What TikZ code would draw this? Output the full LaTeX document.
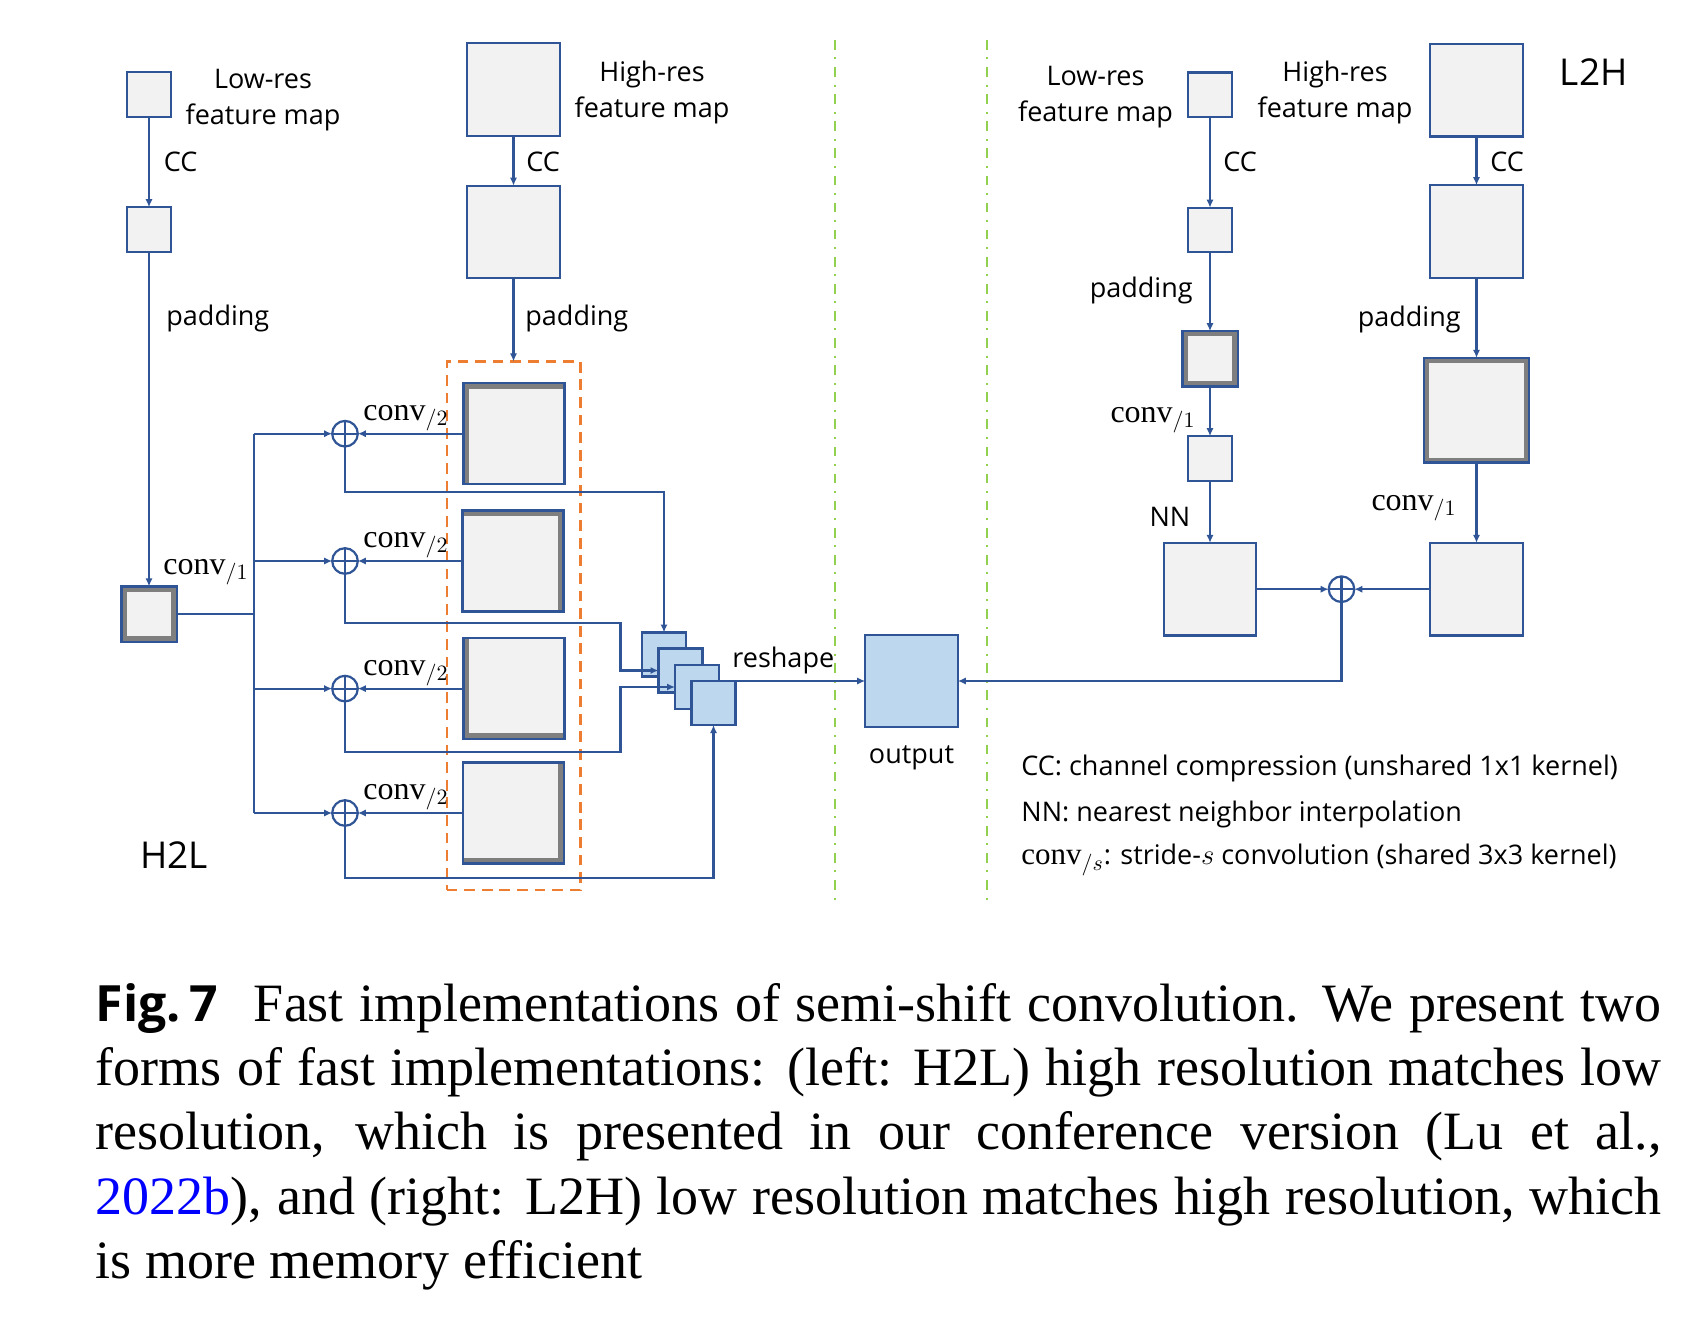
\documentclass[tikz,border=0pt]{standalone}
\usepackage{fontspec}
\setmainfont{Liberation Serif}
\setsansfont{Open Sans}
\usetikzlibrary{arrows.meta,calc}
\definecolor{linecol}{RGB}{47,85,151}
\definecolor{boxfill}{RGB}{242,242,242}
\definecolor{padgray}{RGB}{127,127,127}
\definecolor{sqfill}{RGB}{189,215,238}
\definecolor{dashorange}{RGB}{237,125,49}
\definecolor{sepgreen}{RGB}{146,208,80}

\begin{document}
\begin{tikzpicture}[
    x=0.5pt, y=-0.5pt,
    fmap/.style={rectangle, draw=linecol, fill=boxfill, line width=1.1pt, inner sep=0pt, outer sep=0pt, minimum size=#1},
    fmap/.default=22.3pt,
    padmap/.style n args={3}{fmap=#1, fill=padgray, path picture={\fill[boxfill] ([shift={(#2)}]path picture bounding box.south west) rectangle ([shift={(#3)}]path picture bounding box.north east);}},
    stack/.style={fmap=22pt, fill=sqfill},
    oplus/.style={circle, draw=linecol, fill=white, line width=1.1pt, minimum size=12.8pt, inner sep=0pt, outer sep=0pt, path picture={\draw[linecol, line width=1.1pt] (path picture bounding box.north) -- (path picture bounding box.south) (path picture bounding box.west) -- (path picture bounding box.east);}},
    group/.style={rectangle, draw=dashorange, line width=1.15pt, dash pattern=on 5.35pt off 3.45pt, minimum width=66.85pt, minimum height=264.3pt, inner sep=0pt, outer sep=0pt},
    sep/.style={draw=sepgreen, line width=1pt, dash pattern=on 4.85pt off 3.85pt on 1pt off 3.85pt},
    arrow/.style={-{Latex[length=4pt,width=3.6pt]}, draw=linecol, line width=1.1pt},
    link/.style={draw=linecol, line width=1.1pt},
    lab/.style={font=\sffamily\fontsize{13.5}{16}\selectfont, inner sep=0pt},
    convlab/.style={font=\fontsize{16}{19}\selectfont, inner sep=0pt},
    title/.style={font=\sffamily\fontsize{18.5}{22}\selectfont, inner sep=0pt}
]
\useasboundingbox (0,0) rectangle (1693,1323);

% Separators
\draw[sep] (835,40) -- (835,902);
\draw[sep] (987,40) -- (987,902);

% H2L: input maps
\node[fmap] (lowA) at (149,94.5) {};
\node[fmap] (lowB) at (149,229.5) {};
\node[padmap={27.6pt}{2.6pt,2.6pt}{-2.6pt,-2.6pt}] (lowP) at (149,614) {};
\node[fmap=46.3pt] (hiA) at (513.5,89.5) {};
\node[fmap=46.3pt] (hiB) at (513.5,232) {};

% H2L: shifted high-res maps
\node[group] (grp) at (513.5,625.7) {};
\node[padmap={50.5pt}{2.9pt,0pt}{0pt,-2.9pt}] (hc1) at (514,433.7) {};
\node[padmap={50.5pt}{0pt,0pt}{-2.9pt,-2.9pt}] (hc2) at (513,561) {};
\node[padmap={50.5pt}{2.9pt,2.9pt}{0pt,0pt}] (hc3) at (514,688.6) {};
\node[padmap={50.5pt}{0pt,2.9pt}{-2.9pt,0pt}] (hc4) at (513.7,813) {};

% H2L: sums
\node[oplus] (add1) at (345,433.7) {};
\node[oplus] (add2) at (345,561) {};
\node[oplus] (add3) at (345,688.6) {};
\node[oplus] (add4) at (345,813) {};
\coordinate (bus) at (254,614);

% Reshape stack and output
\node[stack] (sq1) at (664,654.5) {};
\node[stack] (sq2) at (680.5,670.5) {};
\node[stack] (sq3) at (697,687) {};
\node[stack] (sq4) at (713.5,703) {};
\node[stack, minimum size=46.3pt] (out) at (911.5,681) {};

% L2H: maps
\node[fmap] (rlowA) at (1210,94.7) {};
\node[fmap] (rlowB) at (1210,230) {};
\node[padmap={27.6pt}{2.6pt,2.6pt}{-2.6pt,-2.6pt}] (rlowP) at (1210,358.8) {};
\node[fmap] (rlowC) at (1210,458.5) {};
\node[fmap=46.3pt] (up) at (1210,589.2) {};
\node[fmap=46.3pt] (rhiA) at (1476.5,90.2) {};
\node[fmap=46.3pt] (rhiB) at (1476.5,231.5) {};
\node[padmap={52.3pt}{2.4pt,2.4pt}{-2.4pt,-2.4pt}] (rhiP) at (1476.5,410.2) {};
\node[fmap=46.3pt] (rhiC) at (1476.5,589.2) {};
\node[oplus] (radd) at (1341.5,589.2) {};

% H2L arrows
\draw[arrow] (lowA) -- (lowB);
\draw[arrow] (lowB) -- (lowP);
\draw[arrow] (hiA) -- (hiB);
\draw[arrow] (hiB) -- (grp.north);
\draw[link] (lowP) -- (bus);
\draw[link] (bus |- add1) -- (bus |- add4);
\draw[arrow] (bus |- add1) -- (add1);
\draw[arrow] (bus |- add2) -- (add2);
\draw[arrow] (bus |- add3) -- (add3);
\draw[arrow] (bus |- add4) -- (add4);
\draw[arrow] (hc1) -- (add1);
\draw[arrow] (hc2) -- (add2);
\draw[arrow] (hc3) -- (add3);
\draw[arrow] (hc4) -- (add4);
\draw[arrow] (add1.south) -- ++(0,45.5) -| (sq1.north);
\draw[arrow] (add2.south) -- ++(0,49.2) -- ++(275.5,0) |- (sq2.west);
\draw[arrow] (add3.south) -- ++(0,50.6) -- ++(275.5,0) |- (sq3.west);
\draw[arrow] (add4.south) -- ++(0,51.8) -| (sq4.south);
\draw[arrow] (sq4.north) -- (out.west);

% L2H arrows
\draw[arrow] (rlowA) -- (rlowB);
\draw[arrow] (rlowB) -- (rlowP);
\draw[arrow] (rlowP) -- (rlowC);
\draw[arrow] (rlowC) -- (up);
\draw[arrow] (rhiA) -- (rhiB);
\draw[arrow] (rhiB) -- (rhiP);
\draw[arrow] (rhiP) -- (rhiC);
\draw[arrow] (up) -- (radd);
\draw[arrow] (rhiC) -- (radd);
\draw[arrow] (radd.south) |- (out.east);

% H2L labels
\node[lab, anchor=base] (lowtxt1) at (263,88.3) {Low-res};
\node[lab, anchor=base] (lowtxt2) at (263,124) {feature map};
\node[lab, anchor=base] (hitxt1) at (652,81.5) {High-res};
\node[lab, anchor=base] (hitxt2) at (652,117.5) {feature map};
\node[lab, anchor=base west] (cc1) at (163.5,171.7) {CC};
\node[lab, anchor=base west] (cc2) at (526,171.5) {CC};
\node[lab, anchor=base west] (pad1) at (166,325.5) {padding};
\node[lab, anchor=base west] (pad2) at (525,325.5) {padding};
\node[convlab, anchor=base east] (cv1) at (249,574) {$\mathrm{conv}_{/1}$};
\node[convlab, anchor=base west] (cv2a) at (363,420.2) {$\mathrm{conv}_{/2}$};
\node[convlab, anchor=base west] (cv2b) at (363,547.5) {$\mathrm{conv}_{/2}$};
\node[convlab, anchor=base west] (cv2c) at (363,675.1) {$\mathrm{conv}_{/2}$};
\node[convlab, anchor=base west] (cv2d) at (363,799.5) {$\mathrm{conv}_{/2}$};
\node[lab, anchor=base west] (reshape) at (732,667.8) {reshape};
\node[lab, anchor=base] (outtxt) at (911.5,763) {output};
\node[title, anchor=base west] (h2l) at (140,868) {H2L};

% L2H labels
\node[lab, anchor=base] (rlowtxt1) at (1095.5,85.4) {Low-res};
\node[lab, anchor=base] (rlowtxt2) at (1095.5,121.7) {feature map};
\node[lab, anchor=base] (rhitxt1) at (1335,81.5) {High-res};
\node[lab, anchor=base] (rhitxt2) at (1335,117.5) {feature map};
\node[lab, anchor=base west] (cc3) at (1223,171.5) {CC};
\node[lab, anchor=base west] (cc4) at (1490,171.5) {CC};
\node[lab, anchor=base east] (pad3) at (1193,297.8) {padding};
\node[lab, anchor=base east] (pad4) at (1461,326.5) {padding};
\node[convlab, anchor=base east] (cv3) at (1196,422.3) {$\mathrm{conv}_{/1}$};
\node[convlab, anchor=base east] (cv4) at (1457,510.3) {$\mathrm{conv}_{/1}$};
\node[lab, anchor=base east] (nn) at (1190.6,526.5) {NN};
\node[title, anchor=base west] (l2h) at (1559.5,85.5) {L2H};

% Legend
\node[lab, anchor=base west] (leg1) at (1021,775) {CC: channel compression (unshared 1x1 kernel)};
\node[lab, anchor=base west] (leg2) at (1021,821.7) {NN: nearest neighbor interpolation};
\node[lab, anchor=base west] (leg3) at (1021,864) {{\rmfamily\fontsize{15.5}{18}\selectfont$\mathrm{conv}_{/s}$}: stride-$s$ convolution (shared 3x3 kernel)};

% Caption
\node[anchor=north west, inner sep=0pt, text width=782.75pt, align=justify, font=\fontsize{27}{32.2}\selectfont] (caption) at (95.5,975.7)
{\noindent\tolerance=9999\hbadness=10000\strut{\sffamily\bfseries\fontsize{25}{30}\selectfont Fig.\,7}\hspace{18pt}Fast implementations of semi-shift convolution. We present two\linebreak
forms of fast implementations: (left: H2L) high resolution matches low\linebreak
resolution, which is presented in our conference version (Lu et al.,\linebreak
\textcolor{blue}{2022b}), and (right: L2H) low resolution matches high resolution, which\linebreak
is more memory efficient};

\end{tikzpicture}
\end{document}
